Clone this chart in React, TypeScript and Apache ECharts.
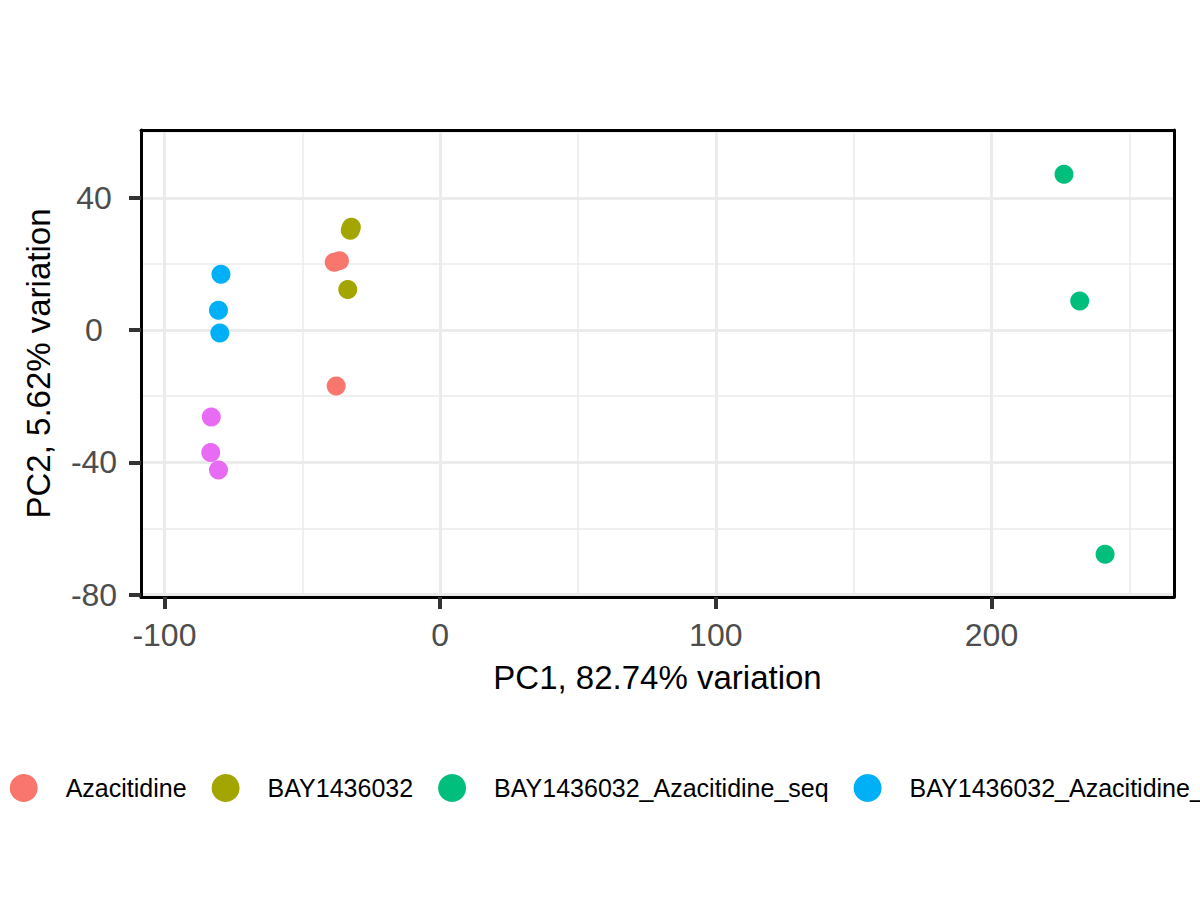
import { useRef, useEffect } from 'react';
import * as echarts from 'echarts';

// PCA scores, one list per treatment group
const groups = [
    'Azacitidine',
    'BAY1436032',
    'BAY1436032_Azacitidine_seq',
    'BAY1436032_Azacitidine_sim',
    'DMSO',
];
const groupColors = ['#F8766D', '#A3A500', '#00BF7D', '#00B0F6', '#E76BF3'];

const azacitidine = [[-38.4, 20.5], [-36.5, 21.0], [-37.7, -16.9]];
const bay = [[-32.6, 30.2], [-32.2, 31.1], [-33.5, 12.3]];
const baySeq = [[226.3, 47.1], [232.0, 8.8], [241.2, -67.8]];
const baySim = [[-79.5, 16.9], [-80.4, 6.0], [-79.9, -0.9]];
const dmso = [[-83.0, -26.3], [-83.2, -37.0], [-80.4, -42.3]];
const groupPoints = [azacitidine, bay, baySeq, baySim, dmso];

const xTicks = [-100, 0, 100, 200];
const yTicks = [-80, -40, 0, 40];
const xRange = [-108.5, 266.2];
const yRange = [-80.7, 60.5];

const FONT = 'Liberation Sans, Arial, sans-serif';
const GRID = '#EBEBEB';

const App: React.FC = () => {
    const chartRef = useRef<HTMLDivElement>(null);

    useEffect(() => {
        document.body.style.margin = '0';
        if (!chartRef.current) return;
        const chart = echarts.init(chartRef.current, null, { renderer: 'svg' });

        // top / right edges of the panel border
        const frameAxis = {
            show: true,
            axisLine: { show: true, onZero: false, lineStyle: { color: '#000', width: 3 } },
            axisTick: { show: false },
            axisLabel: { show: false },
            splitLine: { show: false },
        };

        const option: echarts.EChartsOption = {
            animation: false,
            textStyle: { fontFamily: FONT },
            grid: { left: 141, right: 26, top: 130, bottom: 303 },
            legend: {
                left: 4.7,
                top: 769,
                width: 3000,
                itemWidth: 28,
                itemHeight: 28,
                itemGap: 25,
                icon: 'circle',
                data: groups,
                textStyle: { fontSize: 25, color: '#000', fontFamily: FONT, padding: [0, 0, 0, 23] },
            },
            xAxis: [
                {
                    type: 'value',
                    min: xRange[0],
                    max: xRange[1],
                    minInterval: 100,
                    maxInterval: 100,
                    name: 'PC1, 82.74% variation',
                    nameLocation: 'middle',
                    nameGap: 64,
                    nameTextStyle: { fontSize: 33, color: '#000', fontFamily: FONT },
                    axisLine: { show: true, onZero: false, lineStyle: { color: '#000', width: 3 } },
                    axisTick: { show: true, customValues: xTicks, length: 12, lineStyle: { color: '#333', width: 4 } },
                    axisLabel: { customValues: xTicks, fontSize: 32, color: '#4D4D4D', margin: 22, fontFamily: FONT },
                    splitLine: { show: true, lineStyle: { color: GRID, width: 3 } },
                    minorTick: { show: false, splitNumber: 2 },
                    minorSplitLine: { show: true, lineStyle: { color: GRID, width: 1.5 } },
                },
                { ...frameAxis, type: 'value', position: 'top', min: xRange[0], max: xRange[1] },
            ],
            yAxis: [
                {
                    type: 'value',
                    min: yRange[0],
                    max: yRange[1],
                    minInterval: 40,
                    maxInterval: 40,
                    name: 'PC2, 5.62% variation',
                    nameLocation: 'middle',
                    nameGap: 86,
                    nameTextStyle: { fontSize: 33, color: '#000', fontFamily: FONT },
                    axisLine: { show: true, onZero: false, lineStyle: { color: '#000', width: 3 } },
                    axisTick: { show: true, customValues: yTicks, length: 12, lineStyle: { color: '#333', width: 4 } },
                    axisLabel: { customValues: yTicks, fontSize: 32, color: '#4D4D4D', margin: 47, align: 'center', fontFamily: FONT },
                    splitLine: { show: true, lineStyle: { color: GRID, width: 3 } },
                    minorTick: { show: false, splitNumber: 2 },
                    minorSplitLine: { show: true, lineStyle: { color: GRID, width: 1.5 } },
                },
                { ...frameAxis, type: 'value', position: 'right', min: yRange[0], max: yRange[1] },
            ],
            series: groups.map((name, i) => ({
                name,
                type: 'scatter',
                data: groupPoints[i],
                symbolSize: 19,
                itemStyle: { color: groupColors[i], opacity: 1 },
                z: 3,
            })),
        };

        chart.setOption(option);

        return () => {
            chart.dispose();
        };
    }, []);

    return <div ref={chartRef} style={{ width: '1200px', height: '900px' }} />;
};

export default App;
